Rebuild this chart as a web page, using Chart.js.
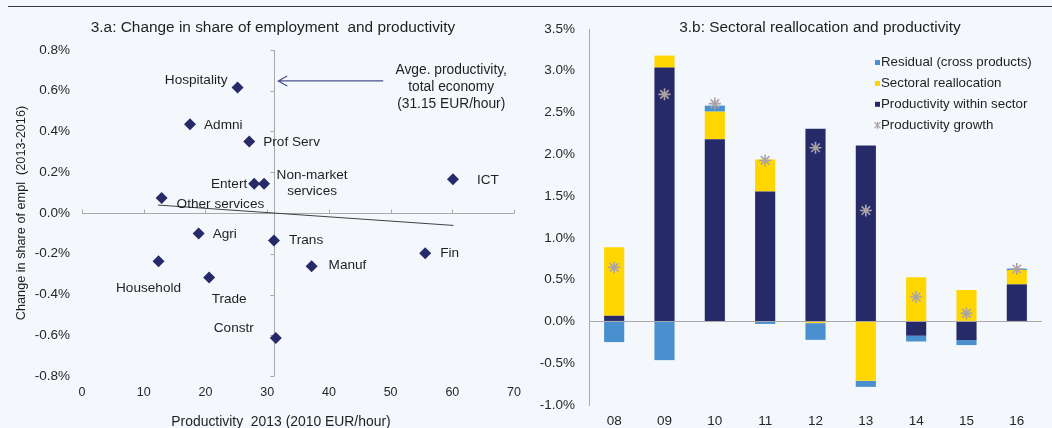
<!DOCTYPE html>
<html lang="en">
<head>
<meta charset="UTF-8">
<title>Employment shifts, productivity and sectoral reallocation</title>
<script src="https://cdn.jsdelivr.net/npm/chart.js"></script>
<style>
    html, body { margin: 0; padding: 0; }
    body {
        width: 1052px; height: 428px; position: relative; overflow: hidden;
        background: #f4f8fc; color: #1f1f1f;
        font-family: "Liberation Sans", Arial, sans-serif;
    }
    .rule { position: absolute; left: 8px; width: 1044px; top: 6px; height: 1px; background: #3a3a3a; z-index: 5; }
    .title { position: absolute; top: 18px; font-size: 15.4px; line-height: 18px; white-space: nowrap; transform: translateX(-50%); z-index: 5; }
    .axis-title { position: absolute; font-size: 13.9px; line-height: 16px; white-space: nowrap; transform: translateX(-50%); z-index: 5; }
    .panel { position: absolute; top: 0; height: 428px; }
</style>
</head>
<body>
    <div class="rule"></div>

    <!-- 3.a -->
    <div class="title" style="left:273px">3.a: Change in share of employment&nbsp; and productivity</div>
    <div class="axis-title" style="left:281px; top:413px">Productivity&nbsp; 2013 (2010 EUR/hour)</div>
    <div class="panel" style="left:0; width:530px"><canvas id="shareChart"></canvas></div>

    <!-- 3.b -->
    <div class="title" style="left:820px">3.b: Sectoral reallocation and productivity</div>
    <div class="panel" style="left:530px; width:522px"><canvas id="reallocChart"></canvas></div>

<script>
    // 3.a data: productivity level 2013 (2010 EUR/hour) vs change in employment share 2013-2016 (%)
    const sectors = ['Hospitality', 'Admni', 'Prof Serv', 'Entert', 'Non-market services', 'ICT', 'Other services',
                     'Agri', 'Trans', 'Fin', 'Household', 'Manuf', 'Trade', 'Constr'];
    const productivity2013 = [25.2, 17.5, 27.1, 27.9, 29.5, 60.1, 12.9, 18.9, 31.1, 55.6, 12.4, 37.2, 20.6, 31.4];
    const emplShareChange = [0.616, 0.436, 0.351, 0.143, 0.143, 0.166, 0.074, -0.100, -0.135, -0.197, -0.237, -0.261, -0.317, -0.613];
    const trendX = [12.3, 60.2];
    const trendY = [0.039, -0.061];
    const avgProductivity = 31.15;

    // 3.b data: decomposition of productivity growth (%)
    const years = ['08', '09', '10', '11', '12', '13', '14', '15', '16'];
    const withinSector = [0.068, 3.038, 2.182, 1.555, 2.307, 2.107, -0.171, -0.223, 0.444];
    const reallocation = [0.820, 0.144, 0.329, 0.384, -0.020, -0.711, 0.528, 0.376, 0.172];
    const residual = [-0.247, -0.463, 0.072, -0.030, -0.200, -0.072, -0.069, -0.060, 0.016];
    const productivityGrowth = [0.647, 2.718, 2.607, 1.927, 2.079, 1.327, 0.293, 0.096, 0.628];

    const FONT = '"Liberation Sans", Arial, sans-serif';
    const NAVY = '#272a68';
    const YELLOW = '#ffd600';
    const LIGHT_BLUE = '#4a90cf';
    const STAR_GREY = '#aca3a6';
    const AXIS_GREY = '#a9a9a9';
    const TEXT = '#1f1f1f';
    const TICK = '#262626';

    const pct = v => (Math.abs(v) < 1e-9 ? 0 : v).toFixed(1) + '%';
    const zeroLineOnly = c => (c.tick && Math.abs(c.tick.value) < 1e-9 ? AXIS_GREY : 'rgba(0,0,0,0)');

    // where each sector name sits next to its diamond (pixels)
    const labelPlacement = {
        'Hospitality':         { dx: -10, dy: -7,  align: 'right' },
        'Admni':               { dx: 14,  dy: 1,   align: 'left' },
        'Prof Serv':           { dx: 14,  dy: 1,   align: 'left' },
        'Entert':              { dx: -7,  dy: 0,   align: 'right' },
        'Non-market services': { dx: 48,  dy: -9,  align: 'center', lines: ['Non-market', 'services'] },
        'ICT':                 { dx: 24,  dy: 1,   align: 'left' },
        'Other services':      { dx: 15,  dy: 6,   align: 'left' },
        'Agri':                { dx: 14,  dy: 1,   align: 'left' },
        'Trans':               { dx: 15,  dy: 0,   align: 'left' },
        'Fin':                 { dx: 15,  dy: 0,   align: 'left' },
        'Household':           { dx: -10, dy: 27,  align: 'center' },
        'Manuf':               { dx: 17,  dy: -1,  align: 'left' },
        'Trade':               { dx: 20,  dy: 22,  align: 'center' },
        'Constr':              { dx: -42, dy: -10, align: 'center' }
    };

    const shareOverlay = {
        id: 'shareOverlay',
        beforeDatasetsDraw(chart) {
            const { ctx, chartArea, scales: { x, y } } = chart;
            const axisX = Math.round(x.getPixelForValue(avgProductivity)) + 0.5;
            const zeroY = Math.round(y.getPixelForValue(0)) + 0.5;
            ctx.save();
            ctx.strokeStyle = AXIS_GREY;
            ctx.lineWidth = 1;
            ctx.beginPath();
            // vertical axis crosses at the economy-wide average productivity
            ctx.moveTo(axisX, chartArea.top);
            ctx.lineTo(axisX, chartArea.bottom);
            y.ticks.forEach(t => {
                const py = Math.round(y.getPixelForValue(t.value)) + 0.5;
                ctx.moveTo(axisX - 4, py);
                ctx.lineTo(axisX, py);
            });
            x.ticks.forEach(t => {
                const px = Math.round(x.getPixelForValue(t.value)) + 0.5;
                ctx.moveTo(px, zeroY);
                ctx.lineTo(px, zeroY - 4);
            });
            ctx.stroke();
            ctx.restore();
        },
        afterDatasetsDraw(chart) {
            const { ctx, scales: { x, y } } = chart;
            ctx.save();
            ctx.font = '13.6px ' + FONT;
            ctx.fillStyle = TEXT;
            ctx.textBaseline = 'middle';
            sectors.forEach((name, i) => {
                const p = labelPlacement[name];
                const px = x.getPixelForValue(productivity2013[i]) + p.dx;
                const py = y.getPixelForValue(emplShareChange[i]) + p.dy;
                ctx.textAlign = p.align;
                (p.lines || [name]).forEach((line, k) => ctx.fillText(line, px, py + k * 16.4));
            });

            // arrow pointing at the average productivity line
            const arrowY = y.getPixelForValue(0.648);
            const tipX = x.getPixelForValue(avgProductivity) + 4;
            const tailX = x.getPixelForValue(48.8);
            ctx.strokeStyle = '#4b4f8f';
            ctx.lineWidth = 1.2;
            ctx.beginPath();
            ctx.moveTo(tailX, arrowY);
            ctx.lineTo(tipX, arrowY);
            ctx.moveTo(tipX + 9, arrowY - 5);
            ctx.lineTo(tipX, arrowY);
            ctx.lineTo(tipX + 9, arrowY + 5);
            ctx.stroke();

            ctx.textAlign = 'center';
            ctx.font = '13.8px ' + FONT;
            const note = ['Avge. productivity,', 'total economy', '(' + avgProductivity.toFixed(2) + ' EUR/hour)'];
            note.forEach((line, k) => ctx.fillText(line, tailX + 68, arrowY - 11 + k * 17));
            ctx.restore();
        }
    };

    new Chart(document.getElementById('shareChart'), {
        type: 'scatter',
        data: {
            datasets: [
                {
                    label: 'Sectors',
                    data: sectors.map((s, i) => ({ x: productivity2013[i], y: emplShareChange[i] })),
                    pointStyle: 'rectRot',
                    pointRadius: 6,
                    pointHoverRadius: 6,
                    backgroundColor: NAVY,
                    borderWidth: 0,
                    order: 0
                },
                {
                    type: 'line',
                    label: 'Trend',
                    data: trendX.map((v, i) => ({ x: v, y: trendY[i] })),
                    borderColor: '#404040',
                    borderWidth: 1,
                    pointRadius: 0,
                    fill: false,
                    order: 1
                }
            ]
        },
        options: {
            responsive: true,
            maintainAspectRatio: false,
            animation: false,
            events: [],
            layout: { padding: { top: 50, right: 13, bottom: 0, left: 0 } },
            plugins: { legend: { display: false }, tooltip: { enabled: false } },
            scales: {
                x: {
                    type: 'linear',
                    min: 0, max: 70,
                    ticks: { stepSize: 10, padding: 9, color: TICK, font: { family: FONT, size: 12.5 } },
                    grid: { display: false, drawTicks: false },
                    border: { display: false },
                    afterFit: scale => { scale.height = 52; }
                },
                y: {
                    min: -0.8, max: 0.8,
                    ticks: { stepSize: 0.2, padding: 12, color: TICK, font: { family: FONT, size: 13.5 }, callback: pct },
                    grid: { drawTicks: false, color: zeroLineOnly },
                    border: { display: false },
                    title: {
                        display: true,
                        text: 'Change in share of empl  (2013-2016)',
                        color: TEXT,
                        font: { family: FONT, size: 12.7 },
                        padding: { top: 14, bottom: 0 }
                    },
                    afterFit: scale => { scale.width = 82; }
                }
            }
        },
        plugins: [shareOverlay]
    });

    // legend for 3.b, drawn inside the plot area
    const legendItems = [
        { text: 'Residual (cross products)', color: LIGHT_BLUE, marker: 'box' },
        { text: 'Sectoral reallocation', color: YELLOW, marker: 'box' },
        { text: 'Productivity within sector', color: NAVY, marker: 'box' },
        { text: 'Productivity growth', color: STAR_GREY, marker: 'star' }
    ];

    const reallocLegend = {
        id: 'reallocLegend',
        afterDraw(chart) {
            const { ctx } = chart;
            ctx.save();
            ctx.font = '13.3px ' + FONT;
            ctx.textBaseline = 'middle';
            ctx.textAlign = 'left';
            legendItems.forEach((item, i) => {
                const cy = 62.5 + i * 20.9;
                if (item.marker === 'box') {
                    ctx.fillStyle = item.color;
                    ctx.fillRect(345, cy - 2.5, 5, 5);
                } else {
                    ctx.strokeStyle = item.color;
                    ctx.lineWidth = 1.2;
                    ctx.beginPath();
                    ctx.moveTo(344.5, cy - 3); ctx.lineTo(350.5, cy + 3);
                    ctx.moveTo(350.5, cy - 3); ctx.lineTo(344.5, cy + 3);
                    ctx.moveTo(347.5, cy - 3.5); ctx.lineTo(347.5, cy + 3.5);
                    ctx.stroke();
                }
                ctx.fillStyle = TEXT;
                ctx.fillText(item.text, 351, cy);
            });
            ctx.restore();
        }
    };

    new Chart(document.getElementById('reallocChart'), {
        type: 'bar',
        data: {
            labels: years,
            datasets: [
                { label: 'Productivity within sector', data: withinSector, backgroundColor: NAVY, order: 1 },
                { label: 'Sectoral reallocation', data: reallocation, backgroundColor: YELLOW, order: 1 },
                { label: 'Residual (cross products)', data: residual, backgroundColor: LIGHT_BLUE, order: 1 },
                {
                    type: 'line',
                    label: 'Productivity growth',
                    data: productivityGrowth,
                    stack: 'growth',
                    showLine: false,
                    pointStyle: 'star',
                    pointRadius: 6,
                    pointHoverRadius: 6,
                    borderColor: STAR_GREY,
                    borderWidth: 1.6,
                    order: 0
                }
            ]
        },
        options: {
            responsive: true,
            maintainAspectRatio: false,
            animation: false,
            events: [],
            barPercentage: 0.4,
            categoryPercentage: 1,
            layout: { padding: { top: 29, right: 10, bottom: 0, left: 0 } },
            plugins: { legend: { display: false }, tooltip: { enabled: false } },
            scales: {
                x: {
                    stacked: true,
                    ticks: { padding: 8, color: TICK, font: { family: FONT, size: 13.5 } },
                    grid: { display: false, drawTicks: false },
                    border: { display: false },
                    afterFit: scale => { scale.height = 23; }
                },
                y: {
                    stacked: true,
                    min: -1, max: 3.5,
                    ticks: { stepSize: 0.5, padding: 14, color: TICK, font: { family: FONT, size: 13.5 }, callback: pct },
                    grid: { drawTicks: false, color: zeroLineOnly },
                    border: { display: true, color: AXIS_GREY },
                    afterFit: scale => { scale.width = 59; }
                }
            }
        },
        plugins: [reallocLegend]
    });
</script>
</body>
</html>
